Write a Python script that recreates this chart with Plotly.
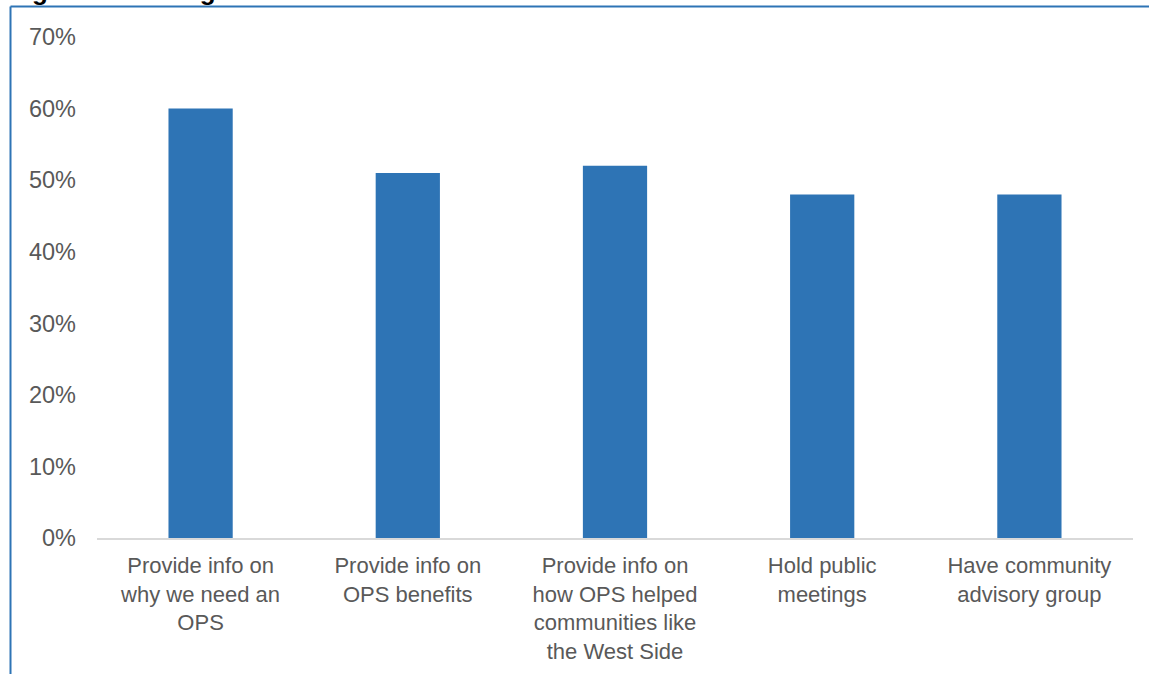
import plotly.graph_objects as go

categories = [
    "Provide info on<br>why we need an<br>OPS",
    "Provide info on<br>OPS benefits",
    "Provide info on<br>how OPS helped<br>communities like<br>the West Side",
    "Hold public<br>meetings",
    "Have community<br>advisory group",
]
values = [0.60, 0.51, 0.52, 0.48, 0.48]
y_ticks = [0, 0.1, 0.2, 0.3, 0.4, 0.5, 0.6, 0.7]
y_tick_labels = ["0%", "10%", "20%", "30%", "40%", "50%", "60%", "70%"]
title_text = "Figure 6: Strategies to Address OPS Concerns"

W, H = 1149, 674
L, R, T, B = 97, 16, 37, 136
pw, ph = W - L - R, H - T - B

def px_x(x):
    return (x - L) / pw

def px_y(y):
    return (H - B - y) / ph

BLUE = "#2E74B5"
GRAY = "#595959"
FONT = "Liberation Sans, Arial, sans-serif"

fig = go.Figure(go.Bar(x=categories, y=values, marker=dict(color=BLUE, line=dict(width=0)),
                       width=0.31))

fig.update_layout(
    width=W, height=H,
    margin=dict(l=L, r=R, t=T, b=B, pad=0, autoexpand=False),
    paper_bgcolor="white", plot_bgcolor="white",
    showlegend=False,
    font=dict(family=FONT, color=GRAY, size=22),
    xaxis=dict(showgrid=False, showline=True, linecolor="#D9D9D9", linewidth=1.5,
               ticks="", tickfont=dict(size=22, color=GRAY), tickangle=0,
               ticklabelstandoff=7, automargin=False, fixedrange=True),
    yaxis=dict(range=[0, 0.7], tickvals=y_ticks, ticktext=y_tick_labels,
               showgrid=False, zeroline=False, showline=False, ticks="",
               tickfont=dict(size=23.5, color=GRAY), ticklabelstandoff=20,
               automargin=False, fixedrange=True),
    shapes=[
        dict(type="line", xref="paper", yref="paper", x0=px_x(10.5), x1=px_x(W + 5),
             y0=px_y(6.5), y1=px_y(6.5), line=dict(color=BLUE, width=2)),
        dict(type="line", xref="paper", yref="paper", x0=px_x(10.5), x1=px_x(10.5),
             y0=px_y(6.5), y1=px_y(H + 5), line=dict(color=BLUE, width=2)),
    ],
    annotations=[
        dict(text="<b>" + title_text + "</b>", xref="paper", yref="paper",
             x=px_x(7), y=px_y(-9), xanchor="left", yanchor="middle", showarrow=False,
             font=dict(family=FONT, size=26, color="black")),
    ],
)

fig.write_html("out.html", config={"displayModeBar": False})
